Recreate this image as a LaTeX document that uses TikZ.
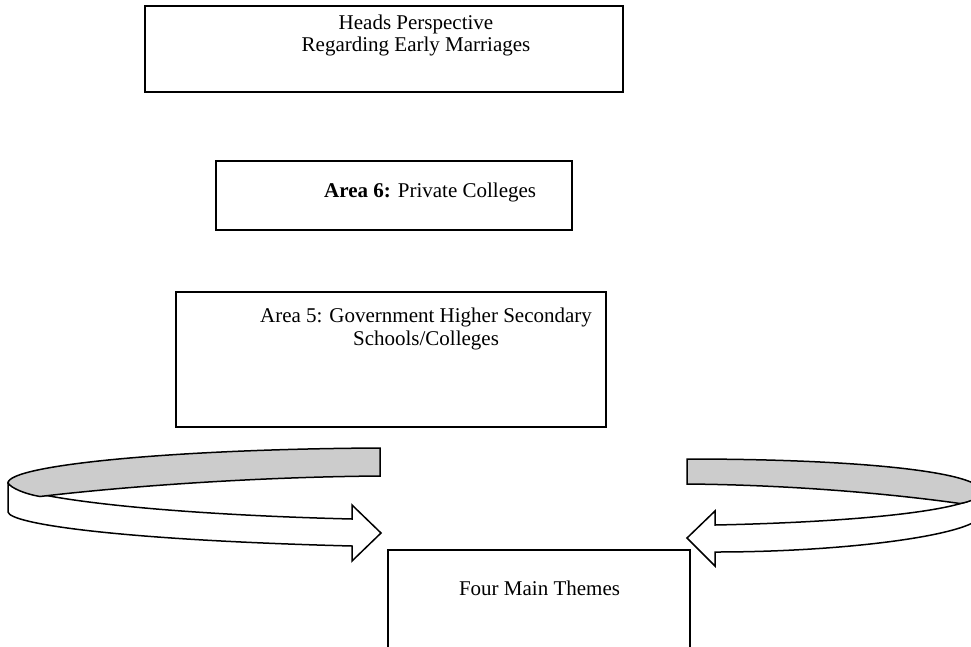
\documentclass[tikz,border=0pt]{standalone}
\usepackage{fontspec}
\setmainfont{Liberation Serif}
\begin{document}
\begin{tikzpicture}[x=1pt,y=-1pt,
  box/.style={draw=black,line width=1.8pt,fill=white,inner sep=0pt,minimum width=#1},
  lbl/.style={inner sep=0pt,font=\fontsize{21}{22.5}\selectfont},
  ribbonfront/.style={draw=black,line width=1.5pt,fill=white,line join=miter},
  ribbonback/.style={draw=black,line width=1.5pt,fill=black!20,line join=miter}]
\useasboundingbox (0,0) rectangle (971,646);
\clip (0,0) rectangle (971,646);
% boxes
\node[box=478pt,minimum height=86pt] (b1) at (384,49) {};
\node[box=356pt,minimum height=69pt] (b2) at (394,195.5) {};
\node[box=430pt,minimum height=135pt] (b3) at (391,359.5) {};
\node[box=302pt,minimum height=130pt] (b4) at (539,615) {};
% texts
\node[lbl,anchor=base] (t1) at (416,29) {\begin{tabular}[t]{@{}c@{}}Heads Perspective\hspace{11pt}\\Regarding Early Marriages\end{tabular}};
\node[lbl,anchor=base west] (t2) at (324,197) {\textbf{Area 6:} Private Colleges};
\node[lbl,anchor=base] (t3) at (426,322.5) {\begin{tabular}[t]{@{}c@{}}Area 5: Government Higher Secondary\\Schools/Colleges\end{tabular}};
\node[lbl,anchor=base] (t4) at (539.5,595) {Four Main Themes};
% left curved arrow
\draw[ribbonfront] (8,483) -- (8,512) .. controls (10,524) and (120,540) .. (352,546)
  -- (352,561) -- (381,533) -- (352,505) -- (352,519)
  .. controls (150,514) and (20,497) .. (8,483) -- cycle;
\draw[ribbonback] (380,448) .. controls (175,449) and (8,465) .. (8,483)
  .. controls (11,488) and (25,494) .. (40,496.5)
  .. controls (120,487) and (250,477) .. (380,476) -- cycle;
% right curved arrow
\draw[ribbonfront] (982,492) -- (982,514) .. controls (980,534) and (850,552) .. (715,552)
  -- (715,566) -- (687,538) -- (715,511) -- (715,525)
  .. controls (860,522) and (975,510) .. (982,492) -- cycle;
\draw[ribbonback] (687,459) .. controls (860,459) and (982,472) .. (982,492)
  .. controls (981,497) and (970,502) .. (960,503.5)
  .. controls (900,495) and (800,485) .. (687,484) -- cycle;
\end{tikzpicture}
\end{document}
